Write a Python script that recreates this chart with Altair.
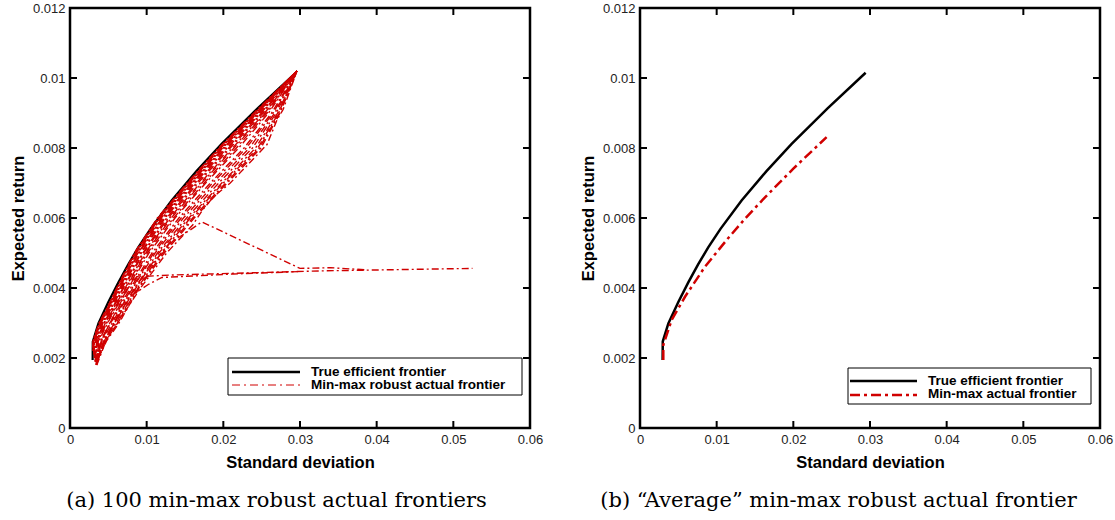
import altair as alt
import pandas as pd

# ---------------- data ----------------
x_ticks = [0, 0.01, 0.02, 0.03, 0.04, 0.05, 0.06]
y_ticks = [0, 0.002, 0.004, 0.006, 0.008, 0.01, 0.012]

true_sigma = [0.00295, 0.00297, 0.0037, 0.0050, 0.0063, 0.0076, 0.0089, 0.0105, 0.01325, 0.0165, 0.01978, 0.0245, 0.02943]
true_mu = [0.00194, 0.00247, 0.00299, 0.00360, 0.00416, 0.00468, 0.00516, 0.00569, 0.00650, 0.00734, 0.00812, 0.00914, 0.01015]

avg_sigma = [0.00304, 0.00304, 0.00413, 0.00587, 0.00848, 0.01152, 0.0137, 0.0163, 0.0200, 0.02434]
avg_mu = [0.00194, 0.00237, 0.00309, 0.00375, 0.00461, 0.00543, 0.00598, 0.00659, 0.00741, 0.00831]

# robust actual frontiers of panel (a): sigma read at fixed return levels
band_mu = [0.0025, 0.003, 0.0035, 0.004, 0.005, 0.006, 0.007, 0.008, 0.009, 0.0102]
band_start_mu = [0.0023, 0.0022, 0.0021, 0.0020, 0.0020, 0.0019, 0.0019, 0.0018, 0.0018, 0.0019, 0.0020, 0.0020,
                 0.0022, 0.0021, 0.0020, 0.0019, 0.0019, 0.0018, 0.0019, 0.0019, 0.0020,
                 0.0023, 0.0022, 0.0021, 0.0020, 0.0020]
band_start_sigma = [0.0030, 0.0031, 0.0031, 0.0032, 0.0032, 0.0033, 0.0033, 0.0034, 0.0034, 0.0035, 0.0036, 0.0037,
                    0.0030, 0.0031, 0.0032, 0.0033, 0.0034, 0.0035, 0.0036, 0.0035, 0.0037,
                    0.0030, 0.00305, 0.0031, 0.0032, 0.0033]
band_sigma = [
    [0.0030, 0.0038, 0.0050, 0.0061, 0.0084, 0.0114, 0.0153, 0.0194, 0.0240, 0.0296],
    [0.0031, 0.0039, 0.0051, 0.0062, 0.0086, 0.0116, 0.0155, 0.0196, 0.0242, 0.0296],
    [0.0032, 0.0040, 0.0052, 0.0064, 0.0088, 0.0118, 0.0157, 0.0198, 0.0244, 0.0296],
    [0.0033, 0.0042, 0.0054, 0.0066, 0.0090, 0.0121, 0.0160, 0.0201, 0.0246, 0.0296],
    [0.0034, 0.0043, 0.0056, 0.0068, 0.0093, 0.0124, 0.0163, 0.0205, 0.0249, 0.0296],
    [0.0035, 0.0045, 0.0058, 0.0070, 0.0096, 0.0128, 0.0167, 0.0209, 0.0252, 0.0296],
    [0.0036, 0.0047, 0.0060, 0.0073, 0.0099, 0.0132, 0.0172, 0.0214, 0.0255, 0.0296],
    [0.0038, 0.0049, 0.0062, 0.0076, 0.0103, 0.0137, 0.0177, 0.0220, 0.0259, 0.0296],
    [0.0040, 0.0052, 0.0065, 0.0079, 0.0107, 0.0142, 0.0183, 0.0227, 0.0263, 0.0296],
    [0.0042, 0.0055, 0.0068, 0.0082, 0.0111, 0.0148, 0.0190, 0.0234, 0.0267, 0.0296],
    [0.0045, 0.0058, 0.0072, 0.0086, 0.0116, 0.0155, 0.0198, 0.0242, 0.0271, 0.0296],
    [0.0047, 0.0062, 0.0075, 0.0089, 0.0121, 0.0160, 0.0203, 0.0247, 0.0273, 0.0296],
    [0.00305, 0.00385, 0.00505, 0.00615, 0.0085, 0.0115, 0.0154, 0.0195, 0.0241, 0.0296],
    [0.00315, 0.00395, 0.00515, 0.0063, 0.0087, 0.0117, 0.0156, 0.0197, 0.0243, 0.0296],
    [0.0033, 0.0041, 0.0053, 0.0065, 0.0089, 0.0120, 0.0159, 0.0200, 0.0245, 0.0296],
    [0.0035, 0.0044, 0.0057, 0.0069, 0.0095, 0.0126, 0.0165, 0.0207, 0.0250, 0.0296],
    [0.0037, 0.0048, 0.0061, 0.0075, 0.0101, 0.0135, 0.0175, 0.0217, 0.0257, 0.0296],
    [0.0041, 0.0053, 0.0067, 0.0081, 0.0109, 0.0145, 0.0186, 0.0230, 0.0265, 0.0296],
    [0.0044, 0.0057, 0.0071, 0.0085, 0.0114, 0.0152, 0.0194, 0.0238, 0.0269, 0.0296],
    [0.0046, 0.0060, 0.0074, 0.0088, 0.0119, 0.0157, 0.0200, 0.0245, 0.0272, 0.0296],
    [0.0048, 0.0064, 0.0077, 0.0090, 0.0123, 0.0162, 0.0205, 0.0249, 0.0274, 0.0296],
    [0.00302, 0.00382, 0.00502, 0.00612, 0.00845, 0.01145, 0.01535, 0.01945, 0.02405, 0.0296],
    [0.00312, 0.00392, 0.00512, 0.00625, 0.00862, 0.01165, 0.01555, 0.01965, 0.02425, 0.0296],
    [0.0032, 0.00405, 0.00525, 0.00645, 0.00885, 0.0119, 0.0158, 0.0199, 0.02445, 0.0296],
    [0.0034, 0.00425, 0.00545, 0.0067, 0.0092, 0.01225, 0.01615, 0.0203, 0.02475, 0.0296],
    [0.0036, 0.0046, 0.0059, 0.0072, 0.0098, 0.0130, 0.0170, 0.0212, 0.0254, 0.0296],
]

lowest_sigma = [0.0035, 0.0047, 0.0062, 0.0077, 0.0092, 0.0126, 0.0160, 0.0172, 0.0187, 0.0209, 0.0231, 0.0257, 0.0270, 0.0278, 0.0296]
lowest_mu = [0.0018, 0.0025, 0.0030, 0.0035, 0.0040, 0.0050, 0.0058, 0.0062, 0.0066, 0.0070, 0.0075, 0.0081, 0.0088, 0.0091, 0.0102]

peak_sigma = [0.0033, 0.0045, 0.0058, 0.0071, 0.0084, 0.0108, 0.0130, 0.0157, 0.0172, 0.0300, 0.0340, 0.0385]
peak_mu = [0.0019, 0.0025, 0.0030, 0.0035, 0.0040, 0.0047, 0.00528, 0.00566, 0.00589, 0.00456, 0.00458, 0.00452]

flat_sigma = [0.0033, 0.0041, 0.0052, 0.0064, 0.0076, 0.0087, 0.0130, 0.0213, 0.0330, 0.0525]
flat_mu = [0.0019, 0.0025, 0.0030, 0.0035, 0.0040, 0.00432, 0.00437, 0.00442, 0.00449, 0.00456]

kink_sigma = [0.0034, 0.0046, 0.0058, 0.0068, 0.0078, 0.0102, 0.0120, 0.0213, 0.0300]
kink_mu = [0.0019, 0.0025, 0.0030, 0.0035, 0.00375, 0.0041, 0.0043, 0.0044, 0.00447]

# ---------------- tables ----------------
def curve_df(sig, mu, cid):
    return pd.DataFrame({"sigma": sig, "mu": mu, "idx": list(range(len(sig))), "curve": cid})

true_df = curve_df(true_sigma, true_mu, "true")
avg_df = curve_df(avg_sigma, avg_mu, "avg")

frames = []
for i, row in enumerate(band_sigma):
    frames.append(curve_df([band_start_sigma[i]] + row, [band_start_mu[i]] + band_mu, f"b{i}"))
frames.append(curve_df(lowest_sigma, lowest_mu, "low"))
frames.append(curve_df(peak_sigma, peak_mu, "peak"))
frames.append(curve_df(flat_sigma, flat_mu, "flat"))
frames.append(curve_df(kink_sigma, kink_mu, "kink"))
robust_df = pd.concat(frames, ignore_index=True)

xt_df = pd.DataFrame({"sigma": x_ticks})
yt_df = pd.DataFrame({"mu": y_ticks})
one = pd.DataFrame({"a": [0]})

W, H = 460, 420
RED = "#d00000"

xscale = alt.Scale(domain=[0, 0.06], nice=False, zero=False)
yscale = alt.Scale(domain=[0, 0.012], nice=False, zero=False)
xaxis = alt.Axis(values=x_ticks, format="~g", title="Standard deviation")
yaxis = alt.Axis(values=y_ticks, format="~g", title="Expected return")


def X():
    return alt.X("sigma:Q", scale=xscale, axis=xaxis)


def Y():
    return alt.Y("mu:Q", scale=yscale, axis=yaxis)


def tick_layers():
    tk = dict(color="black", strokeWidth=2)
    return [
        alt.Chart(xt_df).mark_rule(**tk).encode(x=X(), y=alt.value(H), y2=alt.value(H - 7)),
        alt.Chart(xt_df).mark_rule(**tk).encode(x=X(), y=alt.value(0), y2=alt.value(7)),
        alt.Chart(yt_df).mark_rule(**tk).encode(y=Y(), x=alt.value(0), x2=alt.value(7)),
        alt.Chart(yt_df).mark_rule(**tk).encode(y=Y(), x=alt.value(W), x2=alt.value(W - 7)),
    ]


def legend_layers(x0, x1, y0, y1, lx0, lx1, ly1, ly2, tx, label2, dash, red_w):
    txt = dict(align="left", baseline="middle", font="Liberation Sans", fontWeight="bold", fontSize=13.5, color="black")
    return [
        alt.Chart(one).mark_rect(fill="white", stroke="black", strokeWidth=1).encode(
            x=alt.value(x0), x2=alt.value(x1), y=alt.value(y0), y2=alt.value(y1)),
        alt.Chart(one).mark_rule(color="black", strokeWidth=2.5).encode(
            x=alt.value(lx0), x2=alt.value(lx1), y=alt.value(ly1)),
        alt.Chart(one).mark_rule(color=RED, strokeWidth=red_w, strokeDash=dash).encode(
            x=alt.value(lx0), x2=alt.value(lx1), y=alt.value(ly2)),
        alt.Chart(one).mark_text(text="True efficient frontier", **txt).encode(
            x=alt.value(tx), y=alt.value(ly1 - 0.5)),
        alt.Chart(one).mark_text(text=label2, **txt).encode(
            x=alt.value(tx), y=alt.value(ly1 + 13.2)),
    ]


def caption(text, dx):
    return alt.TitleParams(text=text, orient="bottom", anchor="middle", frame="bounds",
                           font="DejaVu Serif", fontSize=21, fontWeight="normal",
                           color="black", offset=19, dx=dx)


thin_dash = [7, 3, 2, 3]
thick_dash = [10, 4, 3, 4]

left = alt.layer(
    alt.Chart(true_df).mark_line(color="black", strokeWidth=2.2).encode(x=X(), y=Y(), order="idx:Q"),
    alt.Chart(robust_df).mark_line(color=RED, strokeWidth=1.4, strokeDash=thin_dash).encode(
        x=X(), y=Y(), detail="curve:N", order="idx:Q"),
    *tick_layers(),
    *legend_layers(158, 452, 350, 387, 162, 230, 364, 377, 241,
                   "Min-max robust actual frontier", [8, 4, 2, 4], 1),
).properties(width=W, height=H, title=caption("(a) 100 min-max robust actual frontiers", 0))

right = alt.layer(
    alt.Chart(true_df).mark_line(color="black", strokeWidth=2.5).encode(x=X(), y=Y(), order="idx:Q"),
    alt.Chart(avg_df).mark_line(color=RED, strokeWidth=2.5, strokeDash=thick_dash).encode(
        x=X(), y=Y(), order="idx:Q"),
    *tick_layers(),
    *legend_layers(208, 451, 360, 396, 210, 277, 373, 387, 288,
                   "Min-max actual frontier", thick_dash, 2.5),
).properties(width=W, height=H, title=caption("(b) \u201cAverage\u201d min-max robust actual frontier", -8))

chart = alt.hconcat(left, right, spacing=35).properties(
    padding={"left": 9, "top": 0, "right": 0, "bottom": 0}
).configure_view(stroke="black", strokeWidth=2.5).configure_axis(
    domain=False, ticks=False, tickSize=0, grid=False, labelFlush=False,
    labelFont="Liberation Sans", labelFontSize=13, labelColor="#222", labelPadding=5,
    titleFont="Liberation Sans", titleFontSize=16.5, titleFontWeight="bold", titleColor="black",
).configure_axisX(titlePadding=8).configure_axisY(titlePadding=6)

chart.save("out.html", embed_options={"renderer": "svg", "actions": False})
